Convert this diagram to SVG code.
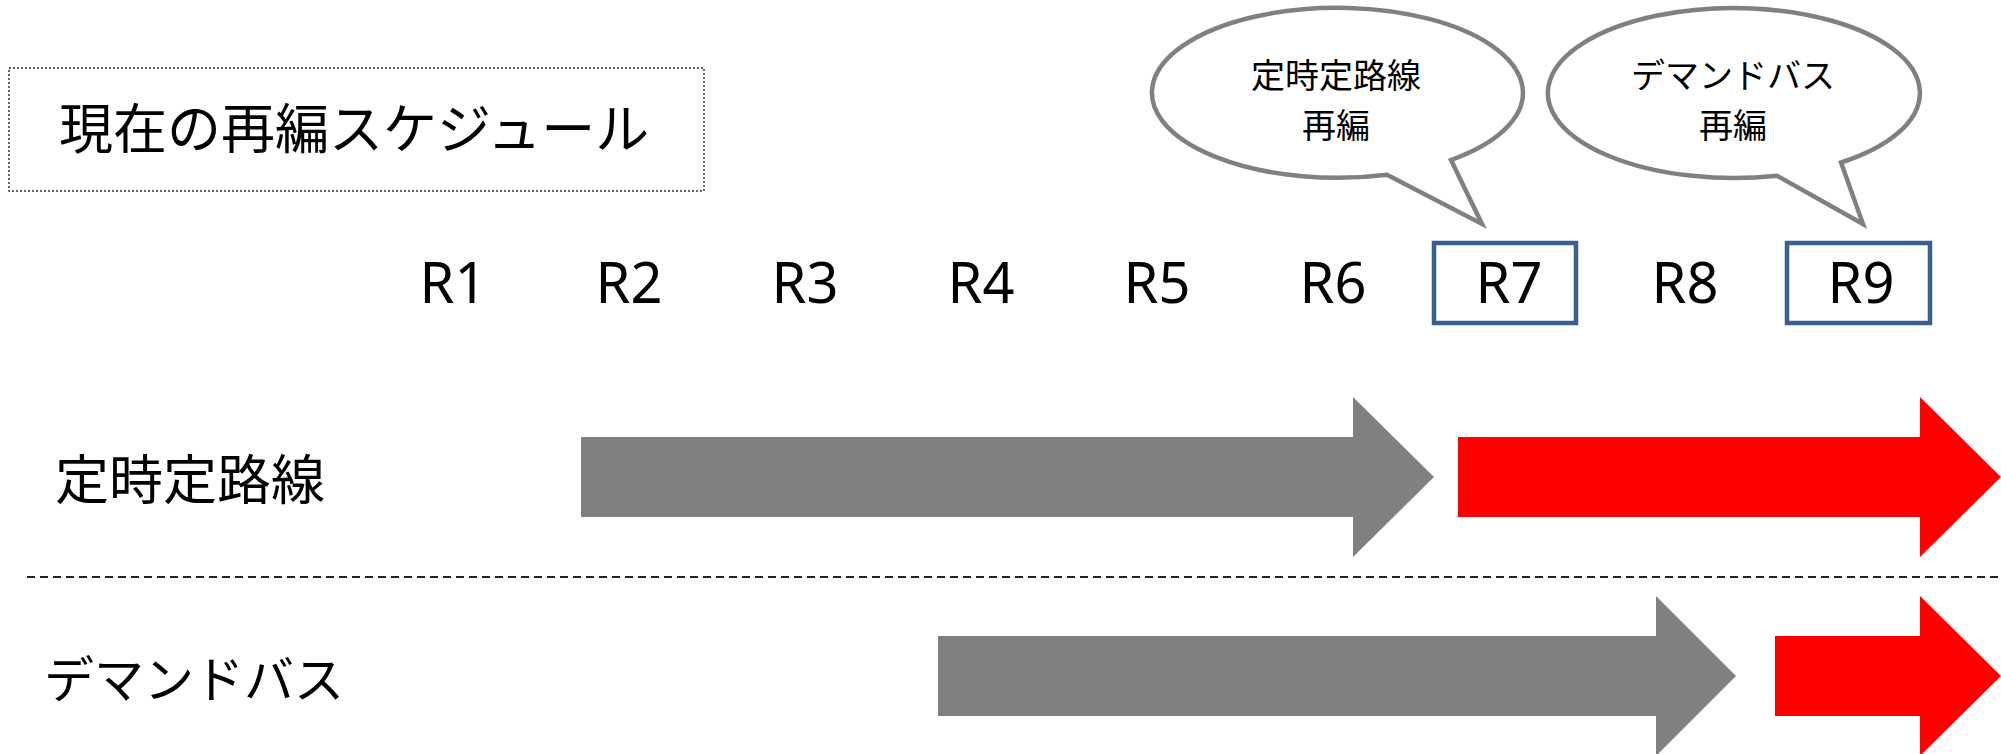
<svg xmlns="http://www.w3.org/2000/svg" width="2001" height="754" viewBox="0 0 2001 754">
<style>
.jp{font-family:"Noto Sans CJK JP","Noto Sans",sans-serif;fill:#000}
.r{font-family:"Noto Sans","Liberation Sans",sans-serif;font-size:56px;fill:#000;text-anchor:middle}
.bub{fill:#fff;stroke:#808080;stroke-width:4.5;stroke-linejoin:miter}
.bt{font-family:"Noto Sans CJK JP",sans-serif;font-size:34px;fill:#000;text-anchor:middle}
.rbox{fill:#fff;stroke:#3A5F8F;stroke-width:4.5}
.gray{fill:#808080}
.red{fill:#FF0000}
</style>
<rect width="2001" height="754" fill="#fff"/>
<g id="title">
<rect x="9" y="68" width="695" height="123" fill="#fff" stroke="#333" stroke-width="1.5" stroke-dasharray="2 2"/>
<text class="jp" x="59" y="149" font-size="54">現在の再編スケジュール</text>
</g>
<g id="bubble1">
<path class="bub" d="M1451,160 A185.5,85 0 1 0 1387,174.7 L1482,224 Z"/>
<text class="bt"><tspan x="1336" y="88">定時定路線</tspan><tspan x="1336" y="138">再編</tspan></text>
</g>
<g id="bubble2">
<path class="bub" d="M1841,162.5 A186,85 0 1 0 1777,175.7 L1863,224 Z"/>
<text class="bt"><tspan x="1733" y="88">デマンドバス</tspan><tspan x="1733" y="138">再編</tspan></text>
</g>
<g id="rounds">
<rect class="rbox" x="1434" y="243" width="142" height="80"/>
<rect class="rbox" x="1787" y="243" width="143" height="80"/>
<text class="r" x="453" y="303">R1</text>
<text class="r" x="629" y="303">R2</text>
<text class="r" x="805" y="303">R3</text>
<text class="r" x="981" y="303">R4</text>
<text class="r" x="1157" y="303">R5</text>
<text class="r" x="1333" y="303">R6</text>
<text class="r" x="1509" y="303">R7</text>
<text class="r" x="1685" y="303">R8</text>
<text class="r" x="1861" y="303">R9</text>
</g>
<g id="label-teiji">
<text class="jp" x="55" y="500" font-size="54">定時定路線</text>
</g>
<g id="label-demand">
<text class="jp" x="44" y="698" font-size="50">デマンドバス</text>
</g>
<g id="connectors">
<line x1="27" y1="577" x2="2001" y2="577" stroke="#222" stroke-width="2" stroke-dasharray="8 5"/>
<path class="gray" d="M581,437 H1353 V397 L1434,477 L1353,557 V517 H581 Z"/>
<path class="red" d="M1458,437 H1920 V397 L2001,477 L1920,557 V517 H1458 Z"/>
<path class="gray" d="M938,636 H1656 V596 L1736,676 L1656,756 V716 H938 Z"/>
<path class="red" d="M1775,636 H1920 V596 L2001,676 L1920,756 V716 H1775 Z"/>
</g>
</svg>
